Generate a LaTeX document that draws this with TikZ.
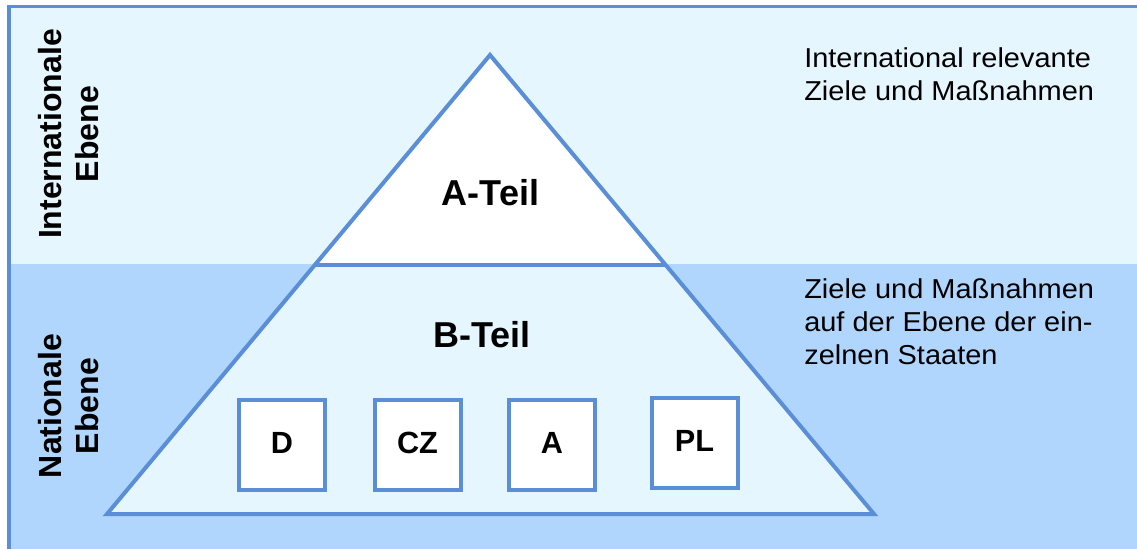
\documentclass[tikz,border=0pt]{standalone}
\usepackage{fontspec}
\setmainfont{Liberation Sans}
\newfontfamily\widesans[FakeStretch=1.06]{Liberation Sans}
\usepackage{tikz}

\definecolor{bandtop}{HTML}{E6F6FE}
\definecolor{bandlow}{HTML}{B0D6FE}
\definecolor{rimblue}{HTML}{5A8ED6}

\begin{document}
\begin{tikzpicture}[x=0.75pt,y=-0.75pt,
		rim/.style={draw=rimblue,line width=3pt},
		land/.style={rim,fill=white,minimum width=64.5pt,minimum height=67.5pt,inner sep=0pt,text depth=3.5pt,font=\fontsize{23}{27}\selectfont\bfseries},
		part/.style={inner sep=0pt,font=\fontsize{27}{32}\selectfont\bfseries},
		level/.style={rotate=90,align=center,inner sep=0pt,font=\fontsize{24}{27.75}\selectfont\bfseries},
		goal/.style={anchor=north west,align=left,inner sep=0pt,font=\widesans\fontsize{20.5}{25}\selectfont}]
		\useasboundingbox (0,0) rectangle (1137,549);
		% two levels
		\fill[bandtop] (9,6.7) rectangle (1137,264);
		\fill[bandlow] (9,264) rectangle (1137,549);
		\draw[rim,line width=2.6pt] (9,549) -- (9,6.7) -- (1137,6.7);
		% pyramid
		\coordinate (apex) at (490,55);
		\coordinate (bl) at (107,514);
		\coordinate (br) at (874,514);
		\coordinate (ml) at (314.8,265);
		\coordinate (mr) at (665.7,265);
		\fill[bandtop] (ml) -- (bl) -- (br) -- (mr) -- cycle;
		\fill[white] (apex) -- (ml) -- (mr) -- cycle;
		\draw[rim] (apex) -- (bl) -- (br) -- cycle;
		\draw[rim] (ml) -- (mr);
		\node[part] (ateil) at (490.5,193) {A-Teil};
		\node[part] (bteil) at (482,334.5) {B-Teil};
		\node[land] (d) at (282,445) {D};
		\node[land] (cz) at (417.5,445) {CZ};
		\node[land] (a) at (552,445) {A};
		\node[land] (pl) at (694.5,443) {PL};
		% labels
		\node[level] (intl) at (68.8,134) {Internationale\\Ebene};
		\node[level] (natl) at (68.8,406) {Nationale\\Ebene};
		\node[goal] (goalint) at (804,47.2) {International relevante\\Ziele und Maßnahmen};
		\node[goal] (goalnat) at (804,278.2) {Ziele und Maßnahmen\\auf der Ebene der ein-\\zelnen Staaten};
	\end{tikzpicture}
\end{document}
